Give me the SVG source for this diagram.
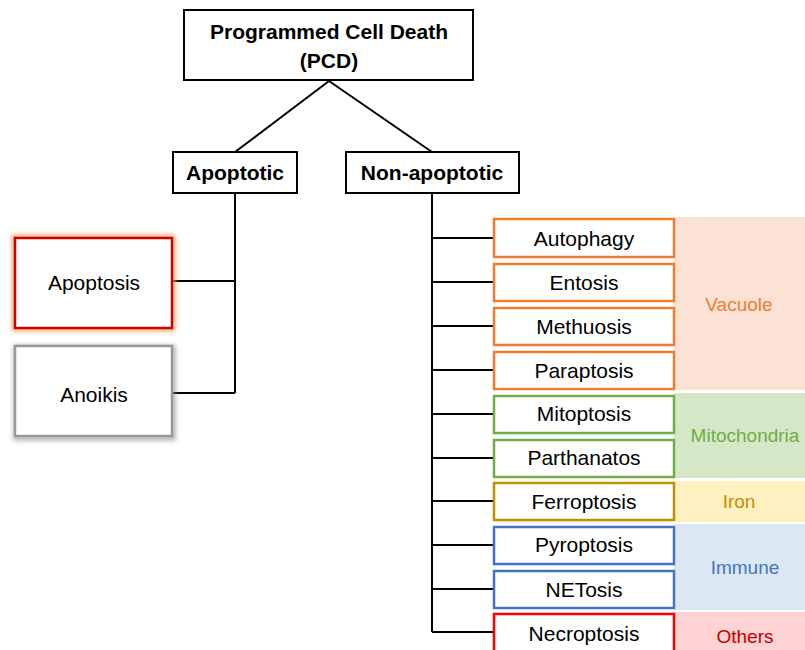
<svg xmlns="http://www.w3.org/2000/svg" width="805" height="650" viewBox="0 0 805 650">
<defs>
<filter id="glow" x="-20%" y="-20%" width="140%" height="140%">
<feGaussianBlur stdDeviation="2.5"/>
</filter>
<style>
.box{fill:#fff;stroke:#000;stroke-width:2}
.t{font-family:"Liberation Sans",Arial,sans-serif;font-size:21px;fill:#000;text-anchor:middle}
.b{font-weight:bold}
.g{font-family:"Liberation Sans",Arial,sans-serif;font-size:19px;text-anchor:middle}
.c{fill:none;stroke:#000;stroke-width:2}
.or{fill:#fff;stroke:#ED7D31;stroke-width:2.5}
.gr{fill:#fff;stroke:#70AD47;stroke-width:2.5}
.go{fill:#fff;stroke:#BF9000;stroke-width:2.5}
.bl{fill:#fff;stroke:#4472C4;stroke-width:2.5}
.rd{fill:#fff;stroke:#FF0000;stroke-width:2.5}
</style>
</defs>
<rect width="805" height="650" fill="#fff"/>
<g id="bands">
<rect x="674" y="217" width="131" height="173" fill="#FBE2D5"/>
<rect x="674" y="393" width="131" height="85" fill="#D4E8C8"/>
<rect x="674" y="481" width="131" height="41" fill="#FFF0C2"/>
<rect x="674" y="524" width="131" height="86" fill="#DCE7F4"/>
<rect x="674" y="612" width="131" height="38" fill="#FFD3D3"/>
<text class="g" x="739" y="311" fill="#ED7D31">Vacuole</text>
<text class="g" x="745" y="442" fill="#70AD47">Mitochondria</text>
<text class="g" x="739" y="508" fill="#BF9000">Iron</text>
<text class="g" x="745" y="574" fill="#4472C4">Immune</text>
<text class="g" x="745" y="643" fill="#C00000">Others</text>
</g>
<g id="connectors">
<path class="c" d="M329 81 L235 152 M329 81 L432 152"/>
<path class="c" d="M235 193 V393 M172 281 H235 M172 393 H235"/>
<path class="c" d="M432 193 V632 M432 238 H494 M432 282 H494 M432 326 H494 M432 370 H494 M432 414 H494 M432 458 H494 M432 501 H494 M432 545 H494 M432 589 H494 M432 632 H494"/>
</g>
<g id="pcd">
<rect class="box" x="184" y="10" width="289" height="70"/>
<text class="t b" x="329" y="39">Programmed Cell Death</text>
<text class="t b" x="329" y="68">(PCD)</text>
</g>
<g id="apoptotic">
<rect class="box" x="173" y="152" width="124" height="41"/>
<text class="t b" x="235" y="180">Apoptotic</text>
</g>
<g id="nonapoptotic">
<rect class="box" x="346" y="152" width="173" height="41"/>
<text class="t b" x="432" y="180">Non-apoptotic</text>
</g>
<g id="apoptosis">
<rect x="15" y="238" width="157" height="90" fill="none" stroke="#F8A060" stroke-width="6" filter="url(#glow)"/>
<rect x="15" y="238" width="157" height="90" fill="#fff" stroke="#D00000" stroke-width="2.5"/>
<text class="t" x="94" y="290">Apoptosis</text>
</g>
<g id="anoikis">
<rect x="16" y="348" width="157" height="90" fill="none" stroke="#888" stroke-width="5" filter="url(#glow)" opacity="0.7"/>
<rect x="15" y="346" width="157" height="90" fill="#fff" stroke="#999" stroke-width="2.5"/>
<text class="t" x="94" y="402">Anoikis</text>
</g>
<g id="autophagy"><rect class="or" x="494" y="219" width="180" height="38"/><text class="t" x="584" y="246">Autophagy</text></g>
<g id="entosis"><rect class="or" x="494" y="264" width="180" height="37"/><text class="t" x="584" y="290">Entosis</text></g>
<g id="methuosis"><rect class="or" x="494" y="308" width="180" height="37"/><text class="t" x="584" y="334">Methuosis</text></g>
<g id="paraptosis"><rect class="or" x="494" y="352" width="180" height="37"/><text class="t" x="584" y="378">Paraptosis</text></g>
<g id="mitoptosis"><rect class="gr" x="494" y="396" width="180" height="37"/><text class="t" x="584" y="421">Mitoptosis</text></g>
<g id="parthanatos"><rect class="gr" x="494" y="440" width="180" height="37"/><text class="t" x="584" y="465">Parthanatos</text></g>
<g id="ferroptosis"><rect class="go" x="494" y="483" width="180" height="37"/><text class="t" x="584" y="509">Ferroptosis</text></g>
<g id="pyroptosis"><rect class="bl" x="494" y="527" width="180" height="37"/><text class="t" x="584" y="552">Pyroptosis</text></g>
<g id="netosis"><rect class="bl" x="494" y="571" width="180" height="37"/><text class="t" x="584" y="597">NETosis</text></g>
<g id="necroptosis"><rect class="rd" x="494" y="614" width="180" height="40"/><text class="t" x="584" y="641">Necroptosis</text></g>
</svg>
